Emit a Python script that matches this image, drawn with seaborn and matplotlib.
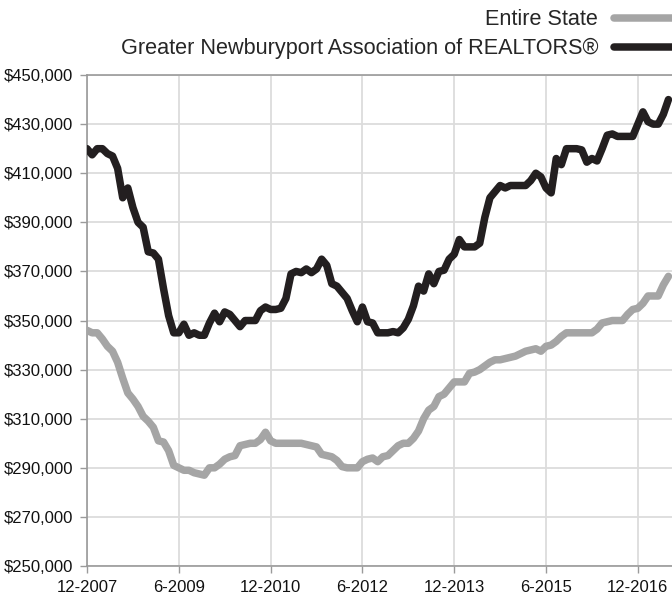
import numpy as np
import pandas as pd
import matplotlib
matplotlib.use("Agg")
import matplotlib.pyplot as plt
import seaborn as sns
from matplotlib.lines import Line2D

# ---------------- data (thousands of dollars, monthly from 12-2007) ----------------
series_names = ["Entire State", "Greater Newburyport Association of REALTORS®"]

newburyport = [
    420, 417.5, 420, 420, 418, 417, 412, 400, 404, 396,
    390, 388, 378, 377.5, 375, 363, 352, 345, 345, 348.5,
    344, 345, 344, 344, 349, 353, 349.5, 353.5, 352.5, 350,
    347.5, 350, 350, 350, 354, 355.5, 354.5, 354.5, 355, 359,
    369, 370, 369.5, 371, 369.5, 371, 375, 372.5, 365, 364,
    361.5, 359, 354, 349.5, 355.5, 349.5, 349, 345, 345, 345,
    345.5, 345, 347, 350.5, 356, 364, 362, 369, 365, 370,
    370.5, 375, 377, 383, 380, 380, 380, 381.5, 392, 400,
    402.5, 405, 404, 405, 405, 405, 405, 407, 410, 408.5,
    404, 402, 416, 413.5, 420, 420, 420, 419.5, 414.5, 416,
    415, 420, 425.5, 426, 425, 425, 425, 425, 430, 435,
    431, 430, 430, 434, 440,
]

entire_state = [
    346, 345, 345, 342.5, 339.5, 337.5, 333, 326.5, 320.5, 318,
    315, 311, 309, 306.5, 301, 300.5, 297, 291, 290, 289,
    289, 288, 287.5, 287, 290, 290, 291.5, 293.5, 294.5, 295,
    299, 299.5, 300, 300, 301.5, 304.5, 301, 300, 300, 300,
    300, 300, 300, 299.5, 299, 298.5, 295.5, 295, 294.5, 293,
    290.5, 290, 290, 290, 292.5, 293.5, 294, 292.5, 294.5, 295,
    297, 299, 300, 300, 302, 305, 310, 313.5, 315, 319,
    320, 322.5, 325, 325, 325, 328.5, 329, 330, 331.5, 333,
    334, 334, 334.5, 335, 335.5, 336.5, 337.5, 338, 338.5, 337.5,
    339.5, 340, 341.5, 343.5, 345, 345, 345, 345, 345, 345,
    346.5, 349, 349.5, 350, 350, 350, 352.5, 354.5, 355, 357,
    360, 360, 360, 364.5, 368,
]

x_tick_months = [0, 18, 36, 54, 72, 90, 108]
x_tick_labels = ["12-2007", "6-2009", "12-2010", "6-2012", "12-2013", "6-2015", "12-2016"]
y_ticks = [250000, 270000, 290000, 310000, 330000, 350000, 370000, 390000, 410000, 430000, 450000]

# ---------------- build long-form frame ----------------
months = list(range(len(newburyport)))
df = pd.concat([
    pd.DataFrame({"month": months, "price": [v * 1000 for v in entire_state], "series": series_names[0]}),
    pd.DataFrame({"month": months, "price": [v * 1000 for v in newburyport], "series": series_names[1]}),
])

colors = {series_names[0]: "#a5a5a5", series_names[1]: "#231f20"}

sns.set_theme(style="white")
plt.rcParams["font.family"] = ["Liberation Sans", "DejaVu Sans"]

fig = plt.figure(figsize=(6.72, 5.96), dpi=100)
ax = fig.add_axes([0.1295, 0.0503, 0.8705, 0.8238])

sns.lineplot(data=df, x="month", y="price", hue="series", palette=colors,
             linewidth=5.4, ax=ax, legend=False, zorder=3)
for ln in ax.lines:
    ln.set_solid_capstyle("round")
    ln.set_solid_joinstyle("round")

ax.set_xlim(0, 114.7)
ax.set_ylim(250000, 450000)
ax.set_xticks(x_tick_months)
ax.set_xticklabels(x_tick_labels)
ax.set_yticks(y_ticks)
ax.set_yticklabels([f"${v:,.0f}" for v in y_ticks])
ax.set_xlabel("")
ax.set_ylabel("")

ax.grid(True, color="#dcdcdc", linewidth=1.3, zorder=0)
ax.set_axisbelow(True)
for side in ["left", "bottom", "top"]:
    ax.spines[side].set_visible(True)
    ax.spines[side].set_color("#9a9a9a")
    ax.spines[side].set_linewidth(1.2)
ax.spines["right"].set_visible(False)

ax.tick_params(axis="both", which="major", length=5, width=1, color="#9a9a9a",
               labelsize=12, labelcolor="#111111")
ax.tick_params(axis="x", direction="out", bottom=True, pad=5)
ax.tick_params(axis="y", direction="out", left=True, pad=5)

handles = [Line2D([0], [0], color=colors[n], linewidth=5.4, solid_capstyle="round") for n in series_names]
fig.legend(handles, series_names, loc="upper right", bbox_to_anchor=(1.04, 1.01),
           markerfirst=False, frameon=False, fontsize=15.6, handlelength=3.2,
           handletextpad=0.75, labelspacing=0.36, borderpad=0.2)

fig.savefig("out.png", dpi=100)
